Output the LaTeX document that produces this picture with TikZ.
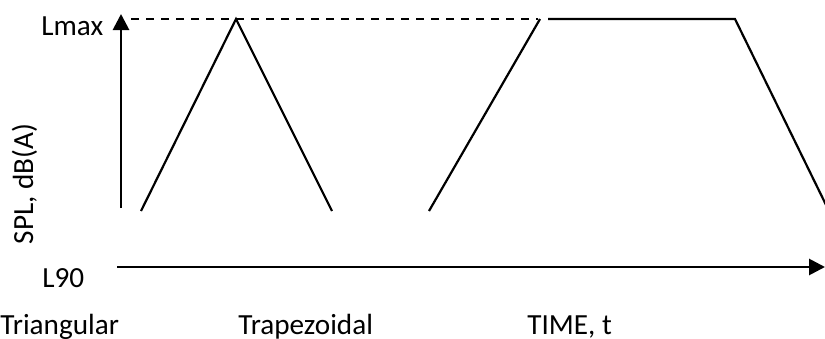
\documentclass[tikz,border=0pt]{standalone}
\usepackage{fontspec}
\setmainfont{Carlito}
\usetikzlibrary{arrows.meta, positioning}

\begin{document}
\begin{tikzpicture}[x=0.5pt,y=-0.5pt,>={Triangle[length=8pt,width=8pt]},
  axis/.style={line width=1.4pt,->},
  trace/.style={line width=1.1pt},
  level/.style={line width=1.1pt,dash pattern=on 4pt off 3.5pt},
  lbl/.style={inner sep=0pt,font=\fontsize{14.6}{17}\selectfont}]
  \useasboundingbox (0,0) rectangle (825,338);
  \clip (0,0) rectangle (825,338);
  % axes
  \coordinate (yfoot) at (121,208);
  \coordinate (ytip) at (121,14);
  \coordinate (xfoot) at (117,267);
  \coordinate (xtip) at (825,267);
  \draw[axis] (yfoot) -- (ytip);
  \draw[axis] (xfoot) -- (xtip);
  % Lmax level
  \coordinate (lvlA) at (131,19);
  \coordinate (lvlB) at (538,19);
  \draw[level] (lvlA) -- (lvlB);
  % triangular event
  \coordinate (triA) at (141,211);
  \coordinate (triP) at (236,19);
  \coordinate (triB) at (332,211);
  \draw[trace] (triA) -- (triP) -- (triB);
  % trapezoidal event
  \coordinate (trpA) at (429,211);
  \coordinate (trpP) at (540,19);
  \coordinate (trpQ) at (548,19);
  \coordinate (trpR) at (735,19);
  \coordinate (trpB) at (829,211);
  \draw[trace] (trpA) -- (trpP);
  \draw[trace] (trpQ) -- (trpR) -- (trpB);
  % labels
  \node[lbl,anchor=base west] (lmax) at (41,35) {Lmax};
  \node[lbl,anchor=base west] (l90) at (42,287) {L90};
  \node[lbl,rotate=90,anchor=base] (spl) at (33,184) {SPL, dB(A)};
  \node[lbl,anchor=base west] (tri) at (0,334) {Triangular};
  \node[lbl,anchor=base west] (trp) at (238,334) {Trapezoidal};
  \node[lbl,anchor=base west] (time) at (527,334) {TIME, t};
\end{tikzpicture}
\end{document}
